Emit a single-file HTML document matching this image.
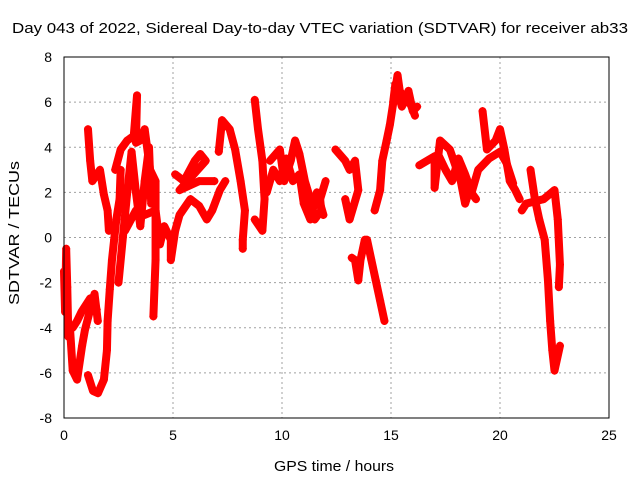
<!DOCTYPE html>
<html><head><meta charset="utf-8"><style>
body{margin:0;background:#fff}
svg{display:block;font-family:"Liberation Sans",sans-serif}
</style></head><body>
<svg id="chart" width="640" height="480">
<rect width="640" height="480" fill="#fff"/>
<text x="12" y="33" font-size="15" textLength="616" lengthAdjust="spacingAndGlyphs">Day 043 of 2022, Sidereal Day-to-day VTEC variation (SDTVAR) for receiver ab33</text>
<text x="274" y="471" font-size="15" textLength="120" lengthAdjust="spacingAndGlyphs">GPS time / hours</text>
<text transform="translate(19,305) rotate(-90)" font-size="15" textLength="144" lengthAdjust="spacingAndGlyphs">SDTVAR / TECUs</text>
<g id="grid"></g><g id="ticks"></g><g id="marks"></g>
<rect x="64" y="57" width="545" height="361" fill="none" stroke="#000" stroke-width="1"/>
</svg>
<script>
const xTicks=[0,5,10,15,20,25];
const yTicks=[-8,-6,-4,-2,0,2,4,6,8];
const trackStart=[[0,-1.5],[0.05,-3.3],[0.1,-0.5],[0.15,-2.2],[0.2,-4.4],[0.28,-4.1],[0.4,-5.9],[0.6,-6.3],[0.83,-4.8],[0.96,-4.1],[1.2,-3.2],[1.4,-2.5],[1.55,-3.7]];
const trackStart2=[[0.4,-4.0],[0.6,-3.7],[0.8,-3.3],[1.0,-3.0],[1.2,-2.7],[1.35,-2.9],[1.5,-3.2]];
const trackValley=[[1.1,-6.1],[1.33,-6.8],[1.56,-6.9],[1.83,-6.3],[1.97,-5.0],[2.0,-3.7],[2.1,-2.3],[2.2,-1.0],[2.3,-0.1],[2.4,0.8],[2.55,1.7],[2.6,3.0]];
const trackSpike1=[[1.1,4.8],[1.2,3.4],[1.3,2.5],[1.65,3.0],[1.83,1.9],[2.0,1.2],[2.06,0.3]];
const trackUpper=[[2.35,3.0],[2.6,3.9],[2.9,4.3],[3.2,4.5],[3.35,6.3],[3.3,4.2],[3.5,4.3],[3.7,4.8],[3.95,3.0],[4.2,2.5],[4.2,-1.0],[4.1,-3.5]];
const trackFill3=[[2.5,-2.0],[2.7,0.0],[2.9,2.0],[3.1,3.8],[3.3,2.0],[3.5,0.5],[3.7,2.5],[3.9,4.0],[4.0,1.5]];
const trackMiddle=[[2.8,0.3],[3.3,1.2],[3.7,1.0],[4.2,1.2],[4.4,-0.3],[4.6,0.5],[4.9,-0.1],[4.9,-1.0],[5.1,0.3],[5.3,1.0],[5.8,1.7],[6.2,1.4],[6.55,0.8],[6.8,1.2],[7.15,2.1],[7.4,2.5]];
const trackBand=[[5.1,2.8],[5.5,2.5],[6.0,3.4],[6.25,3.7],[6.5,3.4],[5.3,2.1],[6.2,2.5],[6.9,2.5]];
const trackPeak7=[[7.1,3.8],[7.25,5.2],[7.6,4.8],[7.85,3.9],[8.1,2.5],[8.3,1.2],[8.2,-0.1],[8.2,-0.5]];
const trackSpike9=[[8.75,6.1],[8.9,4.8],[9.1,3.4],[9.2,1.7],[9.1,0.3],[8.75,0.8]];
const trackMid10=[[9.45,3.4],[9.9,3.9],[10.1,2.5],[10.4,3.4],[10.6,4.3],[10.8,3.7],[11.05,2.5],[11.3,1.7],[11.5,0.8],[11.8,1.2],[11.75,1.7],[12,2.5]];
const trackFill10=[[9.3,2.0],[9.6,3.0],[9.9,2.5],[10.2,3.5],[10.5,2.5],[10.8,2.8],[11.0,1.5],[11.3,0.8],[11.6,2.0],[11.9,1.0]];
const track13=[[12.45,3.9],[12.9,3.4],[13.1,3.0],[13.35,3.4],[13.5,2.1],[13.1,0.8],[12.9,1.7]];
const trackDip14=[[13.2,-0.9],[13.35,-1.0],[13.5,-1.9],[13.6,-1.0],[13.8,-0.1],[13.9,-0.1],[14.1,-1.0],[14.3,-1.9],[14.5,-2.8],[14.7,-3.7]];
const trackRise15=[[14.25,1.2],[14.5,2.1],[14.6,3.4],[14.8,4.3],[14.95,5.0],[15.3,7.2],[15.4,6.5],[15.65,6.1],[15.9,5.9],[16.1,5.4]];
const trackFill15=[[15.1,6.0],[15.2,6.8],[15.5,5.8],[15.8,6.5],[16.0,5.6],[16.2,5.8]];
const track17=[[16.3,3.2],[17.0,3.6],[17.0,2.2],[17.25,4.3],[17.7,3.9],[18.2,2.5],[18.4,1.5],[18.6,2.1],[18.9,1.7]];
const trackFill18=[[17.2,3.6],[17.5,3.0],[17.8,2.5],[18.1,3.5],[18.4,2.8],[18.7,2.0],[19.0,3.0],[19.5,3.5],[20.0,3.8],[20.3,3.3],[20.6,2.4]];
const track19=[[19.2,5.6],[19.4,3.9],[19.8,4.3],[20,4.8],[20.2,3.9],[20.45,2.5],[20.7,2.1],[20.9,1.7]];
const track21=[[21.4,3.0],[21.6,1.7],[21.8,0.8],[22.05,-0.1],[22.2,-1.9],[22.3,-3.7],[22.4,-5.0],[22.5,-5.9],[22.75,-4.8]];
const track22=[[21.0,1.2],[21.2,1.5],[22.0,1.7],[22.5,2.1],[22.65,0.8],[22.75,-1.2],[22.7,-2.2]];
const tracks=[trackStart,trackStart2,trackValley,trackSpike1,trackUpper,trackFill3,trackMiddle,trackBand,trackPeak7,trackSpike9,trackMid10,trackFill10,track13,trackDip14,trackRise15,trackFill15,track17,trackFill18,track19,track21,track22];

const X0=64,X1=609,Y0=418,Y1=57;
const xs=t=>X0+(t-0)/25*(X1-X0);
const ys=v=>Y0-(v+8)/16*(Y0-Y1);
const NS='http://www.w3.org/2000/svg';
function mk(tag,attrs,parent){const e=document.createElementNS(NS,tag);for(const k in attrs)e.setAttribute(k,attrs[k]);parent.appendChild(e);return e;}
const grid=document.getElementById('grid'),ticks=document.getElementById('ticks'),marks=document.getElementById('marks');
xTicks.forEach(t=>{const x=xs(t);
 if(t>0&&t<25){const g=mk('line',{x1:x,x2:x,y1:Y1,y2:Y0,stroke:'#a0a0a0','stroke-dasharray':'2,3'},grid);
 
 }
 const l=mk('text',{x:x,y:Y0+22,'font-size':14,'text-anchor':'middle'},ticks);l.textContent=t;
 
 
});
yTicks.forEach(v=>{const y=ys(v);
 if(v>-8&&v<8){const g=mk('line',{x1:X0,x2:X1,y1:y,y2:y,stroke:'#a0a0a0','stroke-dasharray':'2,3'},grid);
 
 }
 const l=mk('text',{x:X0-12,y:y+5,'font-size':14,'text-anchor':'end'},ticks);l.textContent=v;
 
 
});
tracks.forEach(tr=>{
 const pl=mk('polyline',{points:tr.map(p=>xs(p[0])+','+ys(p[1])).join(' '),fill:'none',stroke:'#ff0000','stroke-width':8,'stroke-linejoin':'round','stroke-linecap':'round'},marks);
 
 
 tr.forEach(p=>{const x=xs(p[0]),y=ys(p[1]);
  const m=mk('path',{d:`M${x-4},${y}H${x+4}M${x},${y-4}V${y+4}`,stroke:'#ff0000','stroke-width':1.2},marks);
  
  
 });
});
</script>
</body></html>
